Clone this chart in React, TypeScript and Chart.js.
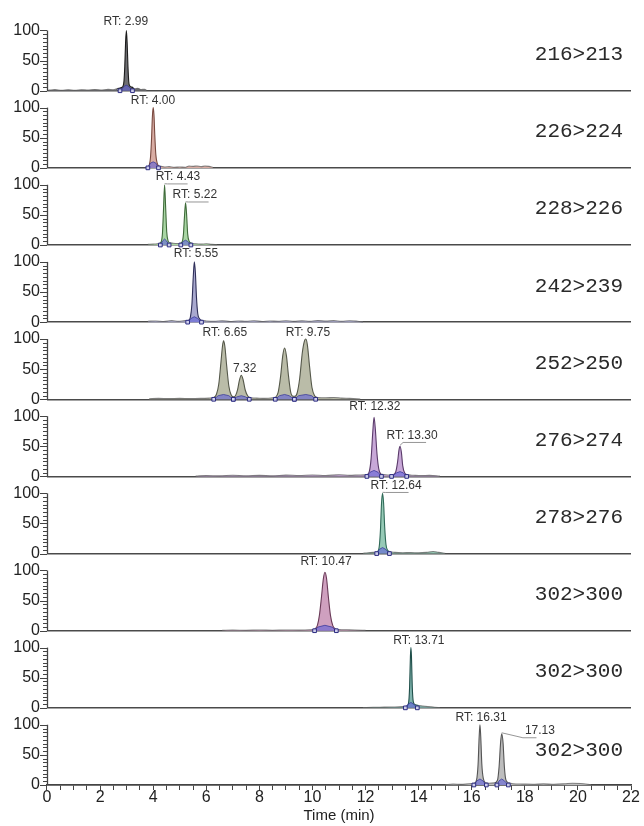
import React, { useEffect, useRef } from "react";
import { Chart, registerables } from "chart.js";

Chart.register(...registerables);

type Pt = [number, number];

// ---- panel names (MRM transitions) ----
const panelLabels = [
  "216>213", "226>224", "228>226", "242>239", "252>250",
  "276>274", "278>276", "302>300", "302>300", "302>300",
];

// ---- chromatogram traces: [time (min), relative abundance] ----
const trace1: Pt[] = [
  [0.05, 1], [0.3, 1.8], [0.55, 0.8], [0.8, 1.5], [1.05, 0.9], [1.3, 1.7], [1.55, 1.1], [1.8, 2],
  [2.05, 1.2], [2.3, 2.2], [2.5, 1.6], [2.65, 3.5], [2.78, 5], [2.86, 7], [2.9, 16], [2.93, 40],
  [2.96, 80], [2.99, 100], [3.02, 78], [3.05, 40], [3.08, 15], [3.12, 8], [3.2, 6],
  [3.3, 3], [3.42, 4], [3.55, 2], [3.68, 2.5], [3.75, 0.5],
];
const trace2: Pt[] = [
  [3.75, 1], [3.8, 2], [3.86, 6], [3.9, 18], [3.94, 50], [3.97, 85], [4.0, 100], [4.03, 88],
  [4.06, 55], [4.1, 22], [4.15, 8], [4.22, 3], [4.3, 2.5], [4.45, 1.5], [4.6, 2], [4.8, 1],
  [5.0, 1.5], [5.2, 1], [5.35, 3], [5.5, 2.5], [5.65, 3.2], [5.8, 2], [5.95, 3], [6.1, 2.5], [6.25, 1],
];
const trace3: Pt[] = [
  [3.8, 1], [4.0, 1.5], [4.15, 2], [4.25, 3], [4.3, 5], [4.35, 20], [4.39, 60], [4.43, 100],
  [4.47, 62], [4.51, 22], [4.56, 7], [4.62, 4], [4.75, 3], [4.9, 2.5], [5.02, 3], [5.09, 5],
  [5.14, 18], [5.18, 48], [5.22, 70], [5.26, 50], [5.3, 18], [5.36, 6], [5.45, 3], [5.6, 2],
  [5.8, 1.5], [6.0, 2], [6.2, 1], [6.4, 0.5],
];
const trace4: Pt[] = [
  [3.8, 1.5], [4.1, 2], [4.4, 1.2], [4.7, 2.5], [4.95, 1.5], [5.2, 2.5], [5.33, 3], [5.4, 8],
  [5.46, 30], [5.51, 75], [5.55, 100], [5.59, 82], [5.63, 42], [5.68, 14], [5.74, 6], [5.82, 3],
  [6.0, 2], [6.3, 1.5], [6.6, 2.2], [6.9, 1.2], [7.2, 2], [7.5, 1.4], [7.8, 2.3], [8.1, 1.2],
  [8.4, 2], [8.7, 1.5], [9.0, 2.4], [9.3, 1.3], [9.6, 2.2], [9.9, 1.5], [10.2, 2.6], [10.5, 1.8],
  [10.8, 2.5], [11.1, 1.5], [11.4, 2.4], [11.7, 1.5], [11.9, 0.5],
];
const trace5: Pt[] = [
  [3.85, 1], [4.2, 1.5], [4.6, 1.2], [5.0, 1.6], [5.4, 1.2], [5.8, 1.5], [6.1, 2], [6.28, 3],
  [6.38, 8], [6.47, 25], [6.55, 60], [6.61, 88], [6.65, 97], [6.7, 88], [6.77, 55], [6.85, 22],
  [6.93, 8], [7.02, 4], [7.1, 6], [7.18, 16], [7.25, 32], [7.32, 40], [7.39, 32], [7.47, 15],
  [7.57, 5], [7.7, 2.5], [7.9, 2], [8.2, 1.5], [8.5, 2.5], [8.62, 4], [8.71, 12], [8.8, 38],
  [8.88, 72], [8.95, 85], [9.02, 72], [9.1, 38], [9.18, 12], [9.27, 5], [9.34, 5], [9.42, 10],
  [9.52, 35], [9.62, 78], [9.7, 97], [9.75, 100], [9.81, 90], [9.89, 55], [9.98, 20], [10.08, 6],
  [10.2, 3], [10.5, 2.5], [10.8, 3], [11.1, 2], [11.4, 1.5], [11.8, 0.5],
];
const trace6: Pt[] = [
  [5.6, 0.5], [6.0, 1.5], [6.5, 1], [7.0, 2], [7.5, 1.2], [8.0, 1.8], [8.5, 1], [9.0, 2.2],
  [9.5, 1.5], [10.0, 2.5], [10.5, 1.5], [11.0, 2.8], [11.4, 1.8], [11.8, 2.5], [12.05, 3],
  [12.14, 8], [12.21, 30], [12.27, 72], [12.32, 98], [12.37, 78], [12.43, 38], [12.5, 12],
  [12.58, 4], [12.7, 3], [12.9, 2.5], [13.05, 3], [13.14, 8], [13.21, 25], [13.26, 44],
  [13.3, 50], [13.35, 40], [13.4, 18], [13.47, 6], [13.56, 3], [13.8, 2], [14.1, 1.5],
  [14.4, 1.8], [14.8, 0.5],
];
const trace7: Pt[] = [
  [11.9, 0.5], [12.1, 1.5], [12.3, 2], [12.44, 3], [12.51, 10], [12.56, 38], [12.6, 82],
  [12.64, 100], [12.68, 84], [12.72, 45], [12.77, 15], [12.84, 5], [12.92, 3], [13.1, 2],
  [13.4, 1.5], [13.7, 1.8], [14.0, 1.2], [14.3, 2], [14.55, 3.5], [14.75, 2], [15.0, 0.5],
];
const trace8: Pt[] = [
  [6.6, 0.5], [7.0, 1], [7.5, 0.8], [8.0, 1.2], [8.5, 0.8], [9.0, 1.2], [9.5, 1], [9.9, 1.5],
  [10.08, 3], [10.18, 8], [10.26, 25], [10.34, 56], [10.41, 86], [10.47, 97], [10.53, 87],
  [10.6, 56], [10.68, 25], [10.77, 8], [10.88, 3], [11.0, 2], [11.3, 1.5], [11.6, 1], [12.0, 0.5],
];
const trace9: Pt[] = [
  [11.9, 0.5], [12.3, 1], [12.7, 1.2], [13.1, 1.5], [13.4, 2], [13.55, 3], [13.62, 8],
  [13.66, 35], [13.69, 85], [13.71, 100], [13.73, 85], [13.76, 35], [13.8, 10], [13.88, 5],
  [14.0, 4], [14.15, 3], [14.35, 2], [14.6, 1], [14.8, 0.5],
];
const trace10: Pt[] = [
  [15.0, 0.5], [15.3, 1.5], [15.6, 1], [15.9, 2], [16.1, 3], [16.18, 8], [16.24, 35],
  [16.28, 80], [16.31, 100], [16.34, 80], [16.38, 35], [16.44, 10], [16.52, 4], [16.65, 3],
  [16.85, 3.5], [16.97, 8], [17.03, 30], [17.09, 72], [17.13, 85], [17.18, 70], [17.23, 30],
  [17.29, 8], [17.38, 4], [17.55, 2], [17.9, 1.5], [18.3, 1.2], [18.7, 1.8], [19.1, 1.2],
  [19.5, 2], [19.8, 3], [20.1, 2.5], [20.5, 0.5],
];

// ---- integrated peak bases: segments of [time, abundance] ----
const base1: Pt[][] = [[[2.75, 0], [2.86, 5], [2.93, 8], [2.99, 9], [3.05, 8], [3.12, 5], [3.22, 0]]];
const base2: Pt[][] = [[[3.8, 0], [3.9, 8], [4.0, 10], [4.1, 8], [4.2, 0]]];
const base3: Pt[][] = [
  [[4.27, 0], [4.36, 7], [4.43, 10], [4.5, 7], [4.6, 0]],
  [[5.04, 0], [5.13, 6], [5.22, 8], [5.3, 6], [5.42, 0]],
];
const base4: Pt[][] = [[[5.3, 0], [5.42, 6], [5.55, 9], [5.68, 6], [5.82, 0]]];
const base5: Pt[][] = [
  [[6.28, 0], [6.45, 6], [6.65, 8], [6.85, 6], [7.02, 0]],
  [[7.02, 0], [7.15, 4], [7.32, 6], [7.48, 4], [7.62, 0]],
  [[8.6, 0], [8.76, 6], [8.95, 8], [9.12, 6], [9.32, 0]],
  [[9.32, 0], [9.48, 6], [9.75, 8], [9.97, 6], [10.12, 0]],
];
const base6: Pt[][] = [
  [[12.05, 0], [12.17, 7], [12.32, 10], [12.47, 7], [12.6, 0]],
  [[12.98, 0], [13.17, 6], [13.3, 8], [13.42, 6], [13.55, 0]],
];
const base7: Pt[][] = [[[12.42, 0], [12.52, 7], [12.64, 10], [12.76, 7], [12.9, 0]]];
const base8: Pt[][] = [[[10.08, 0], [10.2, 6], [10.47, 9], [10.74, 6], [10.9, 0]]];
const base9: Pt[][] = [[[13.5, 0], [13.6, 6], [13.71, 9], [13.82, 6], [13.95, 0]]];
const base10: Pt[][] = [
  [[16.08, 0], [16.2, 7], [16.31, 10], [16.42, 7], [16.55, 0]],
  [[16.95, 0], [17.03, 7], [17.13, 10], [17.23, 7], [17.38, 0]],
];

// ---- retention-time annotations ----
const rtPanel = [0, 1, 2, 2, 3, 4, 4, 4, 5, 5, 6, 7, 8, 9, 9];
const rtText = [
  "RT: 2.99", "RT: 4.00", "RT: 4.43", "RT: 5.22", "RT: 5.55", "RT: 6.65", "7.32", "RT: 9.75",
  "RT: 12.32", "RT: 13.30", "RT: 12.64", "RT: 10.47", "RT: 13.71", "RT: 16.31", "17.13",
];
const rtTime = [2.99, 4.0, 4.43, 5.22, 5.55, 6.65, 7.32, 9.75, 12.32, 13.3, 12.64, 10.47, 13.71, 16.31, 17.13];
const rtHeight = [100, 100, 100, 70, 100, 97, 40, 100, 98, 50, 100, 97, 100, 100, 85];
const rtLabelTime = [2.97, 3.99, 4.93, 5.57, 5.61, 6.7, 7.45, 9.83, 12.35, 13.75, 13.15, 10.51, 14.01, 16.35, 18.57];
const rtLabelLevel = [115, 112, 113, 83, 113, 110, 50, 110, 115, 68, 113, 115, 112, 112, 90];
const rtLeader = [false, false, true, true, false, false, false, false, false, true, true, false, false, false, true];

// ---- styles ----
const fillColors = [
  "#6e6e72", "#d9ada4", "#a9d6a4", "#a9a9cf", "#babca8",
  "#c8a8d8", "#96cab6", "#cfa0bf", "#80b4ae", "#bdbdbd",
];
const lineColors = [
  "#1c1c1c", "#7a4a40", "#3f6b3a", "#30305a", "#55584a",
  "#5a3a6a", "#2f6a58", "#6a3a58", "#1f4f4a", "#555555",
];
const NOISE_COLOR = "rgba(95,95,95,0.75)";

const traces = [trace1, trace2, trace3, trace4, trace5, trace6, trace7, trace8, trace9, trace10];
const bases = [base1, base2, base3, base4, base5, base6, base7, base8, base9, base10];

const SANS = '"Liberation Sans", Arial, Helvetica, sans-serif';

export default function App() {
  const ref = useRef<HTMLCanvasElement | null>(null);

  useEffect(() => {
    if (!ref.current) return;

    const datasets: any[] = [];
    traces.forEach((tr, i) => {
      const yAxisID = "y" + i;
      datasets.push({
        type: "line",
        label: panelLabels[i],
        data: tr.map(([x, y]) => ({ x, y })),
        xAxisID: "x",
        yAxisID,
        borderColor: lineColors[i],
        backgroundColor: fillColors[i],
        borderWidth: 1.1,
        pointRadius: 0,
        fill: "origin",
        cubicInterpolationMode: "monotone",
        segment: {
          borderColor: (c: any) =>
            c.p0.parsed.y < 5 && c.p1.parsed.y < 5 ? NOISE_COLOR : undefined,
        },
        order: 3,
        clip: false,
      });
      const bdata: any[] = [];
      bases[i].forEach((seg, k) => {
        if (k > 0) bdata.push({ x: seg[0][0], y: null });
        seg.forEach(([x, y]) => bdata.push({ x, y }));
      });
      datasets.push({
        type: "line",
        data: bdata,
        xAxisID: "x",
        yAxisID,
        borderColor: "rgba(50,50,150,0.9)",
        backgroundColor: "rgba(95,95,215,0.6)",
        borderWidth: 0.8,
        pointRadius: 0,
        fill: "origin",
        spanGaps: false,
        order: 2,
        clip: false,
      });
      const marks = bases[i]
        .flatMap((seg) => seg.filter((p) => p[1] === 0))
        .map(([x, y]) => ({ x, y }));
      datasets.push({
        type: "scatter",
        data: marks,
        xAxisID: "x",
        yAxisID,
        pointStyle: "rect",
        pointRadius: 2.6,
        pointBackgroundColor: "rgba(215,215,245,0.9)",
        pointBorderColor: "#2b2b80",
        pointBorderWidth: 1,
        showLine: false,
        order: 1,
        clip: false,
      });
    });

    const scales: any = {
      x: {
        type: "linear",
        position: "bottom",
        min: 0,
        max: 22,
        ticks: {
          stepSize: 0.5,
          autoSkip: false,
          maxRotation: 0,
          color: "#222",
          padding: 0,
          font: { family: SANS, size: 16, lineHeight: 1 },
          callback: (v: number) => {
            const r = Math.round(v);
            return Math.abs(v - r) < 1e-6 && r % 2 === 0 ? String(r) : "";
          },
        },
        grid: { drawOnChartArea: false, tickLength: 5, tickColor: "#444", tickWidth: 1 },
        border: { display: true, color: "#444", width: 1.5 },
        title: {
          display: true,
          text: "Time (min)",
          color: "#222",
          font: { family: SANS, size: 15 },
          padding: { top: 1, bottom: 0 },
        },
      },
    };

    for (let i = 0; i < 10; i++) {
      scales["y" + i] = {
        type: "linear",
        position: "left",
        stack: "panels",
        stackWeight: 1,
        weight: 10 - i,
        min: 0,
        max: 128,
        border: { display: false },
        afterBuildTicks: (scale: any) => {
          scale.ticks = scale.ticks.filter((t: any) => t.value >= 0 && t.value <= 100.01);
        },
        afterFit: (scale: any) => {
          scale.width = 39;
        },
        ticks: {
          stepSize: 6.25,
          autoSkip: false,
          color: "#222",
          padding: 7,
          font: { family: SANS, size: 16 },
          callback: (v: number) => (v === 0 || v === 50 || v === 100 ? String(v) : ""),
        },
        grid: {
          drawOnChartArea: true,
          drawTicks: false,
          color: (c: any) => (c.tick && c.tick.value === 0 ? "#4a4a4a" : "rgba(0,0,0,0)"),
          lineWidth: (c: any) => (c.tick && c.tick.value === 0 ? 1.5 : 1),
        },
      };
    }

    const overlay = {
      id: "overlay",
      afterDatasetsDraw(chart: any) {
        const ctx = chart.ctx;
        const xs = chart.scales.x;
        const area = chart.chartArea;
        ctx.save();
        for (let i = 0; i < 10; i++) {
          const ys = chart.scales["y" + i];
          ctx.strokeStyle = "#444";
          ctx.lineWidth = 1.3;
          ctx.beginPath();
          ctx.moveTo(area.left + 0.5, ys.getPixelForValue(100));
          ctx.lineTo(area.left + 0.5, ys.getPixelForValue(0));
          ctx.stroke();
          // tick marks: long at labelled values, short for minor
          ctx.lineWidth = 1;
          ys.ticks.forEach((t: any) => {
            const yy = Math.round(ys.getPixelForValue(t.value)) + 0.5;
            const major = t.value === 0 || t.value === 50 || t.value === 100;
            ctx.beginPath();
            ctx.moveTo(area.left, yy);
            ctx.lineTo(area.left - (major ? 7 : 4), yy);
            ctx.stroke();
          });

          ctx.font = '21px "Liberation Mono", "Courier New", monospace';
          ctx.fillStyle = "#2a2a2a";
          ctx.textAlign = "right";
          ctx.textBaseline = "middle";
          ctx.fillText(panelLabels[i], area.right - 8, ys.getPixelForValue(i === 9 ? 57 : 60));
        }

        ctx.font = "12px " + SANS;
        ctx.textAlign = "center";
        ctx.textBaseline = "middle";
        for (let k = 0; k < rtText.length; k++) {
          const ys = chart.scales["y" + rtPanel[k]];
          const lx = xs.getPixelForValue(rtLabelTime[k]);
          const ly = ys.getPixelForValue(rtLabelLevel[k]);
          ctx.fillStyle = "#333";
          ctx.fillText(rtText[k], lx, ly);
          if (rtLeader[k]) {
            const w = ctx.measureText(rtText[k]).width;
            const px = xs.getPixelForValue(rtTime[k]);
            const py = ys.getPixelForValue(rtHeight[k]);
            const left = lx - w / 2;
            const bottom = ly + 7;
            ctx.strokeStyle = "#8a8a8a";
            ctx.lineWidth = 0.9;
            ctx.beginPath();
            ctx.moveTo(px, py - 1);
            ctx.lineTo(Math.max(px + 3, left - 2), bottom);
            ctx.lineTo(Math.max(px + 3, left - 2) + w * 0.45, bottom);
            ctx.stroke();
          }
        }
        ctx.restore();
      },
    };

    const chart = new Chart(ref.current, {
      type: "line",
      data: { datasets },
      options: {
        responsive: false,
        animation: false,
        layout: { padding: { left: 0, right: 13, top: 6, bottom: 1 } },
        plugins: { legend: { display: false }, tooltip: { enabled: false } },
        scales,
      },
      plugins: [overlay],
    } as any);

    return () => chart.destroy();
  }, []);

  return (
    <div
      style={{
        position: "fixed",
        left: 0,
        top: 0,
        width: 644,
        height: 826,
        overflow: "hidden",
        background: "#fff",
      }}
    >
      <canvas
        ref={ref}
        width={636}
        height={829}
        style={{ position: "absolute", left: 8, top: -3, display: "block" }}
      />
    </div>
  );
}
